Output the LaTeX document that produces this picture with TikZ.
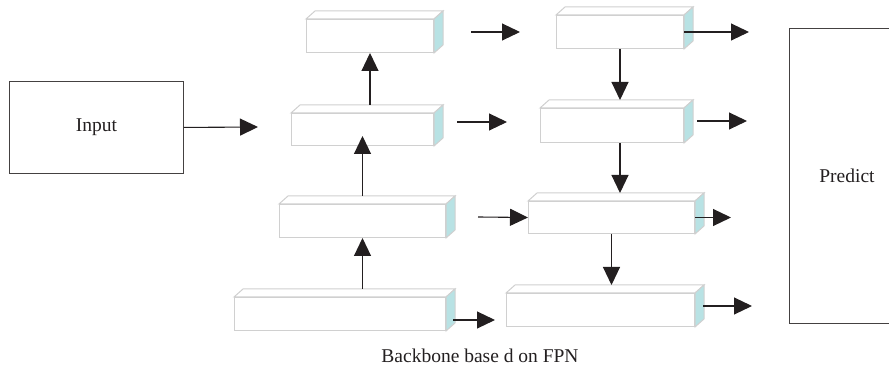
\documentclass[tikz,border=0pt]{standalone}
\usepackage{fontspec}
\setmainfont{Liberation Serif}
\usetikzlibrary{arrows.meta}
\definecolor{edgeGray}{RGB}{208,208,208}
\definecolor{sideCyan}{RGB}{184,226,228}
\definecolor{inkBlack}{RGB}{35,31,32}
\colorlet{frameGray}{inkBlack!85}

\tikzset{
  layerBox/.style={shape=rectangle, draw=edgeGray, fill=white, line width=1pt, inner sep=0pt, anchor=north west},
  plainBox/.style={shape=rectangle, draw=frameGray, line width=0.9pt, inner sep=0pt, anchor=north west},
  flowArrow/.style={draw=inkBlack, line width=1.1pt, -{Triangle[length=18pt, width=17pt]}},
}

\begin{document}
\begin{tikzpicture}[x=1pt, y=-1pt, font=\fontsize{19.5}{23}\selectfont, text=inkBlack]
	\clip (0,0) rectangle (889,379);

	% --- Ein- und Ausgabe ---
	\node[plainBox, minimum width=174pt, minimum height=92pt] (input) at (9,81) {Input};
	\node[plainBox, minimum width=115pt, minimum height=295pt] (predict) at (789,28) {Predict};

	% --- Backbone (links, von unten nach oben) ---
	\node[layerBox, minimum width=211pt, minimum height=33pt] (c2) at (234,297) {};
	\node[layerBox, minimum width=166pt, minimum height=33pt] (c3) at (279,204) {};
	\node[layerBox, minimum width=142pt, minimum height=32pt] (c4) at (291,113) {};
	\node[layerBox, minimum width=127pt, minimum height=33pt] (c5) at (306,19) {};

	% --- FPN (rechts, von oben nach unten) ---
	\node[layerBox, minimum width=127pt, minimum height=33pt] (p5) at (556,15) {};
	\node[layerBox, minimum width=143pt, minimum height=34pt] (p4) at (540,108) {};
	\node[layerBox, minimum width=166pt, minimum height=32pt] (p3) at (528,201) {};
	\node[layerBox, minimum width=188pt, minimum height=33pt] (p2) at (506,293) {};

	% --- Ober- und Seitenflaechen der Quader ---
	\foreach \n in {c2,c3,c4,c5,p5,p4,p3,p2} {
		\path[draw=edgeGray, fill=white, line width=1pt] (\n.north west) -- ++(9,-8)
			-- ([shift={(9,-8)}]\n.north east) -- (\n.north east) -- cycle;
		\path[draw=edgeGray, fill=sideCyan, line width=1pt] (\n.north east) -- ++(9,-8)
			-- ([shift={(9,-8)}]\n.south east) -- (\n.south east) -- cycle;
	}

	% --- Hilfspunkte ---
	\coordinate (c2top) at ([yshift=8pt]c2.north);
	\coordinate (c3top) at ([yshift=8pt]c3.north);
	\coordinate (c4top) at ([yshift=8pt]c4.north);
	\coordinate (p4top) at ([yshift=8pt]p4.north);
	\coordinate (p3top) at ([yshift=8pt]p3.north);
	\coordinate (p2top) at ([yshift=8pt]p2.north);
	\coordinate (inTip) at (258,127);
	\coordinate (c5s) at (471,32);   \coordinate (c5e) at (520,32);
	\coordinate (c4s) at (457,122);  \coordinate (c4e) at (507,122);
	\coordinate (c3s) at (478,217);
	\coordinate (c2s) at (453,320);  \coordinate (c2e) at (495,320);
	\coordinate (p5out) at (749,32);
	\coordinate (p4s) at (697,121);  \coordinate (p4e) at (747,121);
	\coordinate (p3out) at (731,217);
	\coordinate (p2s) at (703,306);  \coordinate (p2e) at (752,306);

	% --- Bottom-up Pfad ---
	\draw[flowArrow] (c2top -| c3.south) -- (c3.south);
	\draw[flowArrow] (c3top) -- ([yshift=10pt]c4.south);
	\draw[flowArrow] (c4top -| c5.south) -- (c5.south);

	% --- Top-down Pfad ---
	\draw[flowArrow] (p5.south) -- (p4top -| p5.south);
	\draw[flowArrow] (p4.south -| p5.south) -- (p3top -| p5.south);
	\draw[flowArrow] (p3.south) -- (p2top -| p3.south);

	% --- Seitliche Verbindungen ---
	\draw[flowArrow] (input.east) -- (inTip);
	\draw[flowArrow] (c5s) -- (c5e);
	\draw[flowArrow] (c4s) -- (c4e);
	\draw[flowArrow] (c3s) -- (p3.west);
	\draw[flowArrow] (c2s) -- (c2e);
	\draw[flowArrow] (p5.east) -- (p5.east -| p5out);
	\draw[flowArrow] (p4s) -- (p4e);
	\draw[flowArrow] (p3.east) -- (p3.east -| p3out);
	\draw[flowArrow] (p2s) -- (p2e);

	% --- Beschriftung ---
	\node (caption) at (480,356) {Backbone base d on FPN};
\end{tikzpicture}
\end{document}
